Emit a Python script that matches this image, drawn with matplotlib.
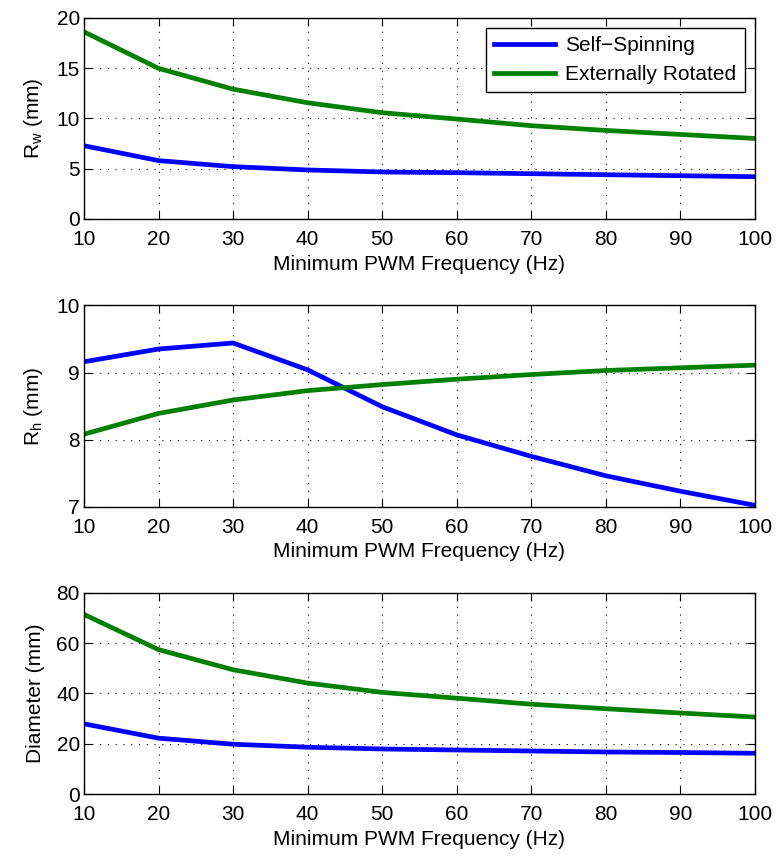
import matplotlib
matplotlib.use("Agg")
import matplotlib.pyplot as plt

plt.rcParams["font.family"] = ["Liberation Sans", "DejaVu Sans"]
plt.rcParams["mathtext.fontset"] = "custom"
plt.rcParams["mathtext.rm"] = "Liberation Sans"
plt.rcParams["mathtext.it"] = "Liberation Sans:italic"

freq = [10, 20, 30, 40, 50, 60, 70, 80, 90, 100]

rw_self = [7.28, 5.8, 5.2, 4.87, 4.67, 4.6, 4.5, 4.4, 4.3, 4.2]
rw_ext = [18.6, 14.97, 12.9, 11.55, 10.56, 9.93, 9.27, 8.8, 8.4, 8.0]

rh_self = [9.16, 9.35, 9.44, 9.04, 8.49, 8.07, 7.75, 7.46, 7.23, 7.02]
rh_ext = [8.08, 8.39, 8.59, 8.73, 8.82, 8.90, 8.97, 9.03, 9.07, 9.11]

dia_self = [27.9, 22.2, 19.8, 18.6, 17.9, 17.5, 17.1, 16.7, 16.5, 16.2]
dia_ext = [71.4, 57.4, 49.4, 44.1, 40.4, 38.1, 35.7, 33.9, 32.2, 30.6]

series_labels = ["Self\u2212Spinning", "Externally Rotated"]
xlabel = "Minimum PWM Frequency (Hz)"

panels = [
    (rw_self, rw_ext, r"$\mathrm{R_w}$ (mm)", (0, 20), [0, 5, 10, 15, 20]),
    (rh_self, rh_ext, r"$\mathrm{R_h}$ (mm)", (7, 10), [7, 8, 9, 10]),
    (dia_self, dia_ext, "Diameter (mm)", (0, 80), [0, 20, 40, 60, 80]),
]

fig = plt.figure(figsize=(7.79, 8.57), dpi=100)
left, width, height = 0.1078, 0.8614, 0.2348
bottoms = [0.7445, 0.4088, 0.0735]

blue = (0, 0, 1)
green = (0, 0.5, 0)
fs = 15

for i, (s, e, ylab, ylim, yticks) in enumerate(panels):
    ax = fig.add_axes([left, bottoms[i], width, height])
    l1, = ax.plot(freq, s, color=blue, lw=3.4, solid_joinstyle="round")
    l2, = ax.plot(freq, e, color=green, lw=3.4, solid_joinstyle="round")
    ax.set_xlim(10, 100)
    ax.set_ylim(*ylim)
    ax.set_xticks(freq)
    ax.set_yticks(yticks)
    ax.grid(True, color="black", linestyle=(0, (1, 6)), linewidth=0.8)
    ax.tick_params(direction="in", top=True, right=True, length=6,
                   width=0.8, labelsize=fs)
    ax.tick_params(axis="x", pad=8)
    ax.tick_params(axis="y", pad=3)
    for sp in ax.spines.values():
        sp.set_linewidth(1.0)
    ax.set_xlabel(xlabel, fontsize=fs, labelpad=4)
    ax.set_ylabel(ylab, fontsize=fs, labelpad=8)
    if i == 0:
        leg = ax.legend([l1, l2], series_labels, loc="upper right",
                        fontsize=fs, fancybox=False, framealpha=1,
                        edgecolor="black", handlelength=2.9,
                        borderaxespad=0.5, labelspacing=0.45,
                        handletextpad=0.5, borderpad=0.4)
        leg.get_frame().set_linewidth(1.0)

fig.savefig("out.png", dpi=100)
